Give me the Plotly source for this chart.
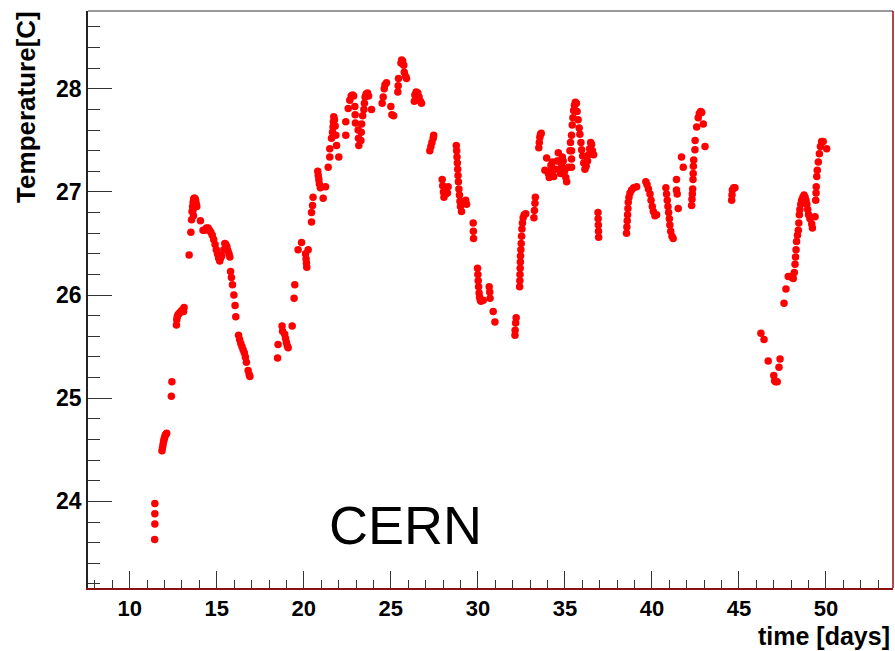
import plotly.graph_objects as go

# (day, temperature) readings, grouped by measurement period
seg1 = [(11.43, 23.63), (11.44, 23.78), (11.44, 23.88), (11.44, 23.98),
        (11.85, 24.49), (11.88, 24.52), (11.91, 24.55), (11.94, 24.58), (11.97, 24.60),
        (12.00, 24.62), (12.04, 24.64), (12.08, 24.65), (12.12, 24.66),
        (12.39, 25.02), (12.42, 25.16),
        (12.68, 25.71), (12.70, 25.76), (12.73, 25.79), (12.77, 25.81), (12.82, 25.82),
        (12.88, 25.83), (12.94, 25.84), (13.00, 25.85), (13.06, 25.86), (13.12, 25.88), (13.09, 25.84),
        (13.41, 26.39), (13.51, 26.61), (13.55, 26.73), (13.58, 26.81), (13.61, 26.86),
        (13.64, 26.90), (13.67, 26.93), (13.70, 26.94), (13.73, 26.94), (13.76, 26.93),
        (13.79, 26.91), (13.82, 26.88), (13.85, 26.86), (13.63, 26.82), (13.66, 26.77),
        (14.06, 26.72), (14.21, 26.63), (14.30, 26.63), (14.40, 26.65), (14.50, 26.65),
        (14.58, 26.63), (14.66, 26.61), (14.74, 26.58), (14.82, 26.54), (14.90, 26.49),
        (14.97, 26.44), (15.04, 26.40), (15.10, 26.36), (15.17, 26.33), (15.22, 26.36), (15.28, 26.38),
        (15.40, 26.44), (15.46, 26.50), (15.52, 26.49), (15.58, 26.47), (15.64, 26.43),
        (15.70, 26.40), (15.75, 26.37),
        (15.79, 26.23), (15.84, 26.17), (15.90, 26.10), (15.98, 26.00), (16.05, 25.90),
        (16.09, 25.79), (16.25, 25.61), (16.31, 25.57), (16.38, 25.53), (16.45, 25.50),
        (16.51, 25.47), (16.58, 25.44), (16.64, 25.40), (16.70, 25.35), (16.80, 25.27),
        (16.86, 25.23), (16.90, 25.21)]

seg2 = [(18.49, 25.39), (18.52, 25.52), (18.75, 25.70), (18.78, 25.65), (18.90, 25.62),
        (18.95, 25.58), (19.00, 25.54), (19.05, 25.51), (19.10, 25.49), (19.33, 25.70),
        (19.44, 25.97), (19.48, 26.10),
        (19.67, 26.44), (19.87, 26.51), (20.10, 26.40), (20.13, 26.35), (20.15, 26.31),
        (20.17, 26.27), (20.25, 26.44),
        (20.44, 26.71), (20.44, 26.80), (20.50, 26.87), (20.53, 26.95),
        (20.80, 27.20), (20.83, 27.16), (20.86, 27.12), (20.89, 27.08), (20.95, 27.04),
        (21.11, 26.94), (21.25, 27.05),
        (21.40, 27.24), (21.49, 27.34), (21.49, 27.42), (21.59, 27.52), (21.65, 27.58),
        (21.68, 27.63), (21.70, 27.68), (21.72, 27.73), (21.76, 27.70), (21.80, 27.64),
        (21.84, 27.55), (21.88, 27.45), (22.01, 27.34),
        (22.41, 27.55), (22.41, 27.68), (22.55, 27.81), (22.64, 27.89), (22.72, 27.93),
        (22.80, 27.94), (22.86, 27.93), (22.93, 27.83), (22.95, 27.75), (22.96, 27.67),
        (23.12, 27.60), (23.14, 27.52), (23.16, 27.45), (23.28, 27.50), (23.30, 27.58),
        (23.32, 27.66), (23.38, 27.74),
        (23.45, 27.80), (23.48, 27.86), (23.52, 27.92), (23.58, 27.95), (23.66, 27.96),
        (23.72, 27.93), (23.89, 27.80),
        (24.50, 27.86), (24.56, 27.92), (24.62, 28.00), (24.66, 28.04), (24.75, 28.06),
        (25.00, 27.83), (25.06, 27.75), (25.16, 27.74),
        (25.40, 27.97), (25.42, 28.03), (25.44, 28.10),
        (25.58, 28.25), (25.62, 28.28), (25.68, 28.27), (25.74, 28.23), (25.77, 28.16),
        (25.85, 28.12), (25.90, 28.10),
        (26.35, 27.88), (26.38, 27.94), (26.45, 27.97), (26.55, 27.96), (26.62, 27.92),
        (26.70, 27.88), (26.76, 27.86)]

seg3 = [(27.24, 27.40), (27.30, 27.44), (27.36, 27.48), (27.43, 27.52), (27.46, 27.55),
        (27.95, 27.12), (27.98, 27.06), (28.02, 27.00), (28.05, 26.95), (28.15, 26.98),
        (28.29, 27.05), (28.25, 26.99),
        (28.76, 27.45), (28.78, 27.40), (28.80, 27.34), (28.82, 27.28), (28.84, 27.22),
        (28.86, 27.16), (28.88, 27.10), (28.91, 27.03), (28.94, 26.97), (28.97, 26.91),
        (29.00, 26.86), (29.06, 26.81),
        (29.30, 26.92), (29.35, 26.88),
        (29.73, 26.70), (29.74, 26.62), (29.75, 26.55),
        (29.98, 26.26), (30.00, 26.20), (30.02, 26.14), (30.04, 26.08), (30.07, 26.02),
        (30.10, 25.98), (30.14, 25.95), (30.18, 25.94), (30.31, 25.95),
        (30.65, 26.08), (30.68, 26.03), (30.70, 25.97), (30.88, 25.84), (30.98, 25.74)]

seg4 = [(32.13, 25.61), (32.14, 25.66), (32.17, 25.73), (32.20, 25.78),
        (32.40, 26.08), (32.41, 26.14), (32.42, 26.20), (32.43, 26.26), (32.44, 26.32),
        (32.45, 26.38), (32.47, 26.44), (32.49, 26.50), (32.51, 26.57), (32.53, 26.64),
        (32.56, 26.70), (32.60, 26.75), (32.66, 26.78), (32.75, 26.79),
        (33.22, 26.75), (33.25, 26.82), (33.28, 26.89), (33.30, 26.95),
        (33.50, 27.43), (33.53, 27.48), (33.56, 27.53), (33.60, 27.56), (33.64, 27.57),
        (33.85, 27.21), (33.95, 27.33),
        (34.05, 27.18), (34.10, 27.14), (34.14, 27.20), (34.20, 27.26), (34.28, 27.29),
        (34.33, 27.22), (34.36, 27.15), (34.45, 27.22), (34.55, 27.30), (34.62, 27.38),
        (34.66, 27.30), (34.70, 27.22), (34.75, 27.18), (34.81, 27.26), (34.85, 27.34),
        (34.90, 27.30), (34.98, 27.20), (35.05, 27.14), (35.10, 27.10), (35.20, 27.24),
        (35.38, 27.24), (35.38, 27.32), (35.38, 27.40),
        (35.29, 27.40), (35.32, 27.48), (35.38, 27.55), (35.42, 27.65), (35.46, 27.72),
        (35.50, 27.79), (35.55, 27.84), (35.60, 27.87), (35.66, 27.86), (35.70, 27.78),
        (35.76, 27.70), (35.82, 27.62), (35.86, 27.56), (35.92, 27.48), (35.96, 27.41),
        (36.02, 27.35), (36.08, 27.28), (36.15, 27.22), (36.22, 27.25), (36.30, 27.30),
        (36.36, 27.36), (36.42, 27.42), (36.48, 27.48), (36.53, 27.46), (36.58, 27.40),
        (36.65, 27.36),
        (36.90, 26.80), (36.91, 26.74), (36.92, 26.68), (36.93, 26.62), (36.94, 26.56)]

seg5 = [(38.54, 26.60), (38.56, 26.66), (38.58, 26.72), (38.60, 26.78), (38.62, 26.84),
        (38.64, 26.90), (38.68, 26.95), (38.74, 26.99), (38.83, 27.02), (38.95, 27.04),
        (39.12, 27.05),
        (39.65, 27.10), (39.72, 27.07), (39.80, 27.03), (39.89, 26.98), (39.95, 26.92),
        (40.02, 26.86), (40.08, 26.81), (40.17, 26.77), (40.27, 26.78),
        (40.80, 27.04), (40.84, 26.98), (40.88, 26.92), (40.92, 26.86), (40.96, 26.80),
        (41.00, 26.74), (41.03, 26.68), (41.08, 26.62), (41.15, 26.57), (41.22, 26.55),
        (41.41, 27.12), (41.41, 27.02), (41.45, 26.98), (41.51, 26.84), (41.70, 27.34),
        (41.80, 27.24),
        (42.28, 26.87), (42.30, 26.93), (42.32, 26.98), (42.34, 27.03), (42.36, 27.12),
        (42.37, 27.18), (42.38, 27.25), (42.40, 27.31), (42.47, 27.41), (42.48, 27.50),
        (42.57, 27.63), (42.66, 27.72), (42.72, 27.76), (42.80, 27.78), (42.86, 27.77),
        (42.95, 27.66), (43.05, 27.44)]

seg6 = [(44.58, 26.92), (44.60, 26.97), (44.62, 27.02), (44.70, 27.04), (44.77, 27.04),
        (46.26, 25.63), (46.44, 25.57), (46.68, 25.36),
        (47.00, 25.22), (47.05, 25.17), (47.10, 25.16), (47.20, 25.16), (47.30, 25.30),
        (47.36, 25.38),
        (47.59, 25.92), (47.70, 26.06), (47.83, 26.18), (47.95, 26.18), (48.05, 26.17),
        (48.12, 26.16),
        (48.18, 26.22), (48.22, 26.30), (48.25, 26.37), (48.28, 26.44), (48.31, 26.52),
        (48.36, 26.58), (48.41, 26.63), (48.44, 26.70), (48.47, 26.78), (48.50, 26.83),
        (48.55, 26.88), (48.60, 26.92), (48.67, 26.95), (48.74, 26.97), (48.80, 26.95),
        (48.85, 26.92), (48.90, 26.88), (48.95, 26.83), (49.00, 26.78), (49.08, 26.74),
        (49.18, 26.69), (49.22, 26.65), (49.37, 26.76),
        (49.41, 26.92), (49.43, 26.99), (49.44, 27.05), (49.47, 27.15), (49.50, 27.21),
        (49.56, 27.29), (49.62, 27.37), (49.68, 27.44), (49.75, 27.49), (49.84, 27.49),
        (50.04, 27.42)]

segments = [seg1, seg2, seg3, seg4, seg5, seg6]
days = [p[0] for s in segments for p in s]
temps = [p[1] for s in segments for p in s]

x_range = [7.6, 53.85]
y_range = [23.16, 28.755]
x_ticks = [10, 15, 20, 25, 30, 35, 40, 45, 50]
y_ticks = [24, 25, 26, 27, 28]

FONT = "Liberation Sans, Arial, Helvetica, sans-serif"
DARKRED = "#8b1010"

fig = go.Figure()
fig.add_trace(go.Scatter(
    x=days, y=temps, mode="markers",
    marker=dict(color="#ff0000", size=7.5, line=dict(width=0)),
    showlegend=False, hoverinfo="x+y"))

fig.update_layout(
    width=895, height=651,
    margin=dict(l=88, r=2, t=11, b=63),
    paper_bgcolor="white", plot_bgcolor="white",
    font=dict(family=FONT, color="black"),
    xaxis=dict(
        range=x_range, tickvals=x_ticks, ticks="inside", ticklen=17, tickwidth=1,
        tickcolor="#333333", showgrid=False, zeroline=False,
        showline=True, linecolor=DARKRED, linewidth=1.5,
        tickfont=dict(family=FONT, size=22, weight="bold", color="black"),
        ticklabelstandoff=0,
        minor=dict(dtick=1, tick0=0, ticks="inside", ticklen=8, tickcolor="#333333",
                   showgrid=False),
    ),
    yaxis=dict(
        range=y_range, tickvals=y_ticks, ticks="inside", ticklen=24, tickwidth=1,
        tickcolor="#333333", showgrid=False, zeroline=False,
        showline=True, linecolor="#222222", linewidth=1.5,
        tickfont=dict(family=FONT, size=23, weight="bold", color="black"),
        minor=dict(dtick=0.2, tick0=0, ticks="inside", ticklen=12, tickcolor="#333333",
                   showgrid=False),
    ),
    shapes=[
        dict(type="line", xref="paper", yref="paper", x0=0, x1=1, y0=1, y1=1,
             line=dict(color="#777777", width=1.5)),
        dict(type="line", xref="paper", yref="paper", x0=1, x1=1, y0=0, y1=1,
             line=dict(color=DARKRED, width=1.5)),
    ],
    annotations=[
        dict(text="Temperature[C]", xref="paper", yref="paper", x=-0.078, y=1.004,
             xanchor="center", yanchor="top", textangle=-90, showarrow=False,
             font=dict(family=FONT, size=26, weight="bold", color="black")),
        dict(text="time [days]", xref="paper", yref="paper", x=0.999, y=-0.083,
             xanchor="right", yanchor="middle", showarrow=False,
             font=dict(family=FONT, size=25, weight="bold", color="black")),
        dict(text="CERN", xref="paper", yref="paper", x=0.394, y=0.11,
             xanchor="center", yanchor="middle", showarrow=False,
             font=dict(family=FONT, size=54, color="black")),
    ],
)

fig.write_html("out.html")
